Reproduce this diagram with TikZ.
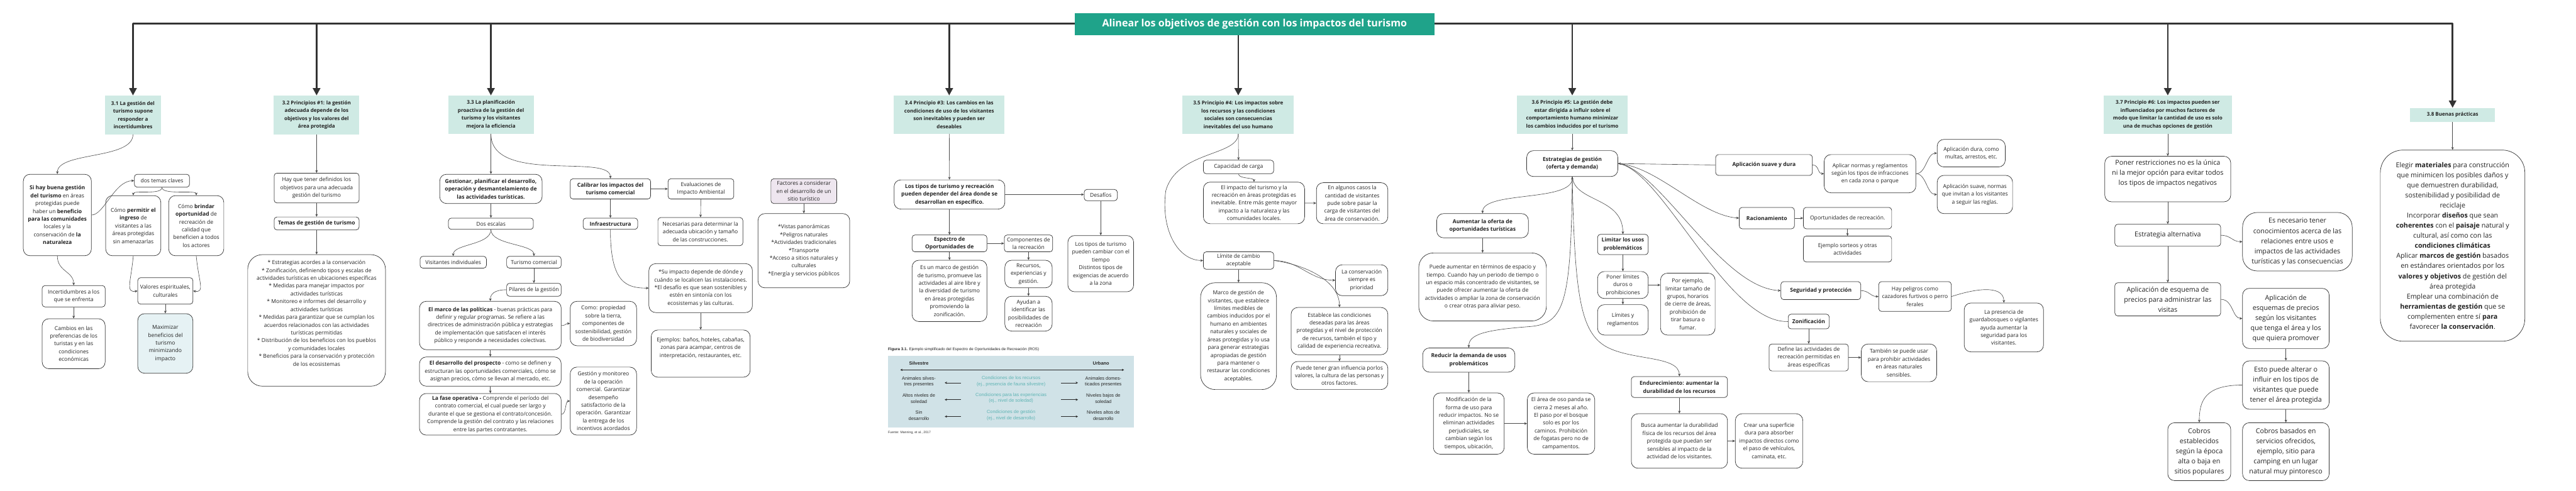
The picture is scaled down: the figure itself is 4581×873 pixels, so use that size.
\documentclass[tikz,border=0pt]{standalone}
\usepackage{fontspec}
\setmainfont{Open Sans}
\newfontfamily\figfamily{Liberation Sans}
\usetikzlibrary{arrows.meta}
\definecolor{hdrteal}{HTML}{CFEAE4}
\definecolor{titleteal}{HTML}{1FA38A}
\definecolor{boxc}{HTML}{333333}
\definecolor{linec}{HTML}{4A4A4A}
\definecolor{barc}{HTML}{333333}
\definecolor{maxfill}{HTML}{E6F2F4}
\definecolor{lavfill}{HTML}{EEE6EF}
\definecolor{figbg}{HTML}{D0E2E7}
\definecolor{figteal}{HTML}{5FB4B4}
\definecolor{txt}{HTML}{222222}
\newcommand{\bodyf}{\fontsize{9.6}{13.9}\selectfont}
\newcommand{\hdrf}{\fontsize{9}{14}\selectfont\bfseries}
\newcommand{\bigfnt}{\fontsize{12}{18}\selectfont}
\newcommand{\figf}{\figfamily\fontsize{8.3}{11}\selectfont}
\tikzset{
  hdr/.style={fill=hdrteal, font=\hdrf, align=center, inner sep=1pt, text=txt},
  bx/.style={draw=boxc, line width=0.8pt, rounded corners=5pt, fill=white, align=center, inner sep=1pt, font=\bodyf, text=txt},
  rbx/.style={bx, rounded corners=12pt},
  Rbx/.style={bx, rounded corners=26pt},
  bigbx/.style={font=\bigfnt},
  conn/.style={draw=linec, line width=0.7pt, -{Stealth[length=5pt,width=4.5pt]}},
  plainc/.style={draw=linec, line width=0.7pt},
  bar/.style={draw=barc, line width=3pt, line cap=round},
  big/.style={draw=barc, line width=3pt, -{Triangle[length=13pt,width=13pt]}},
  figtxt/.style={font=\figf, align=center, inner sep=0pt, text=black!85},
  figarr/.style={draw=black!85, line width=0.8pt, -{Stealth[length=4pt,width=4pt]}},
}
\begin{document}
\begin{tikzpicture}[x=1pt,y=-1pt]
\useasboundingbox (0,0) rectangle (4581,873);
\fill[white] (0,0) rectangle (4581,873);

% ---------- headers ----------
\node[hdr, minimum width=99, minimum height=69] (h31) at (236.5,204.5) {3.1 La gestión del\\turismo supone\\responder a\\incertidumbres};
\node[hdr, minimum width=152, minimum height=69] (h32) at (563,204.5) {3.2 Principios \#1: la gestión\\adecuada depende de los\\objetivos y los valores del\\área protegida};
\node[hdr, minimum width=152, minimum height=68] (h33) at (873,204) {3.3 La planificación\\proactiva de la gestión del\\turismo y los visitantes\\mejora la eficiencia};
\node[hdr, minimum width=197, minimum height=68] (h34) at (1688,204) {3.4 Principio \#3: Los cambios en las\\condiciones de uso de los visitantes\\son inevitables y pueden ser\\deseables};
\node[hdr, minimum width=198, minimum height=68] (h35) at (2202,204) {3.5 Principio \#4: Los impactos sobre\\los recursos y las condiciones\\sociales son consecuencias\\inevitables del uso humano};
\node[hdr, minimum width=197, minimum height=68] (h36) at (2796,204) {3.6 Principio \#5: La gestión debe\\estar dirigida a influir sobre el\\comportamiento humano minimizar\\los cambios inducidos por el turismo};
\node[hdr, minimum width=228, minimum height=68] (h37) at (3855,204) {3.7 Principio \#6: Los impactos pueden ser\\influenciados por muchos factores de\\modo que limitar la cantidad de uso es solo\\una de muchas opciones de gestión};
\node[hdr, minimum width=151, minimum height=25] (h38) at (4361.5,204.5) {3.8 Buenas prácticas};

% ---------- top bar ----------
\coordinate (barY) at (0,42);
\draw[bar] (h31.north |- barY) -- (h38.north |- barY);
\foreach \h in {h31,h32,h33,h34,h35,h36,h37,h38}
  \draw[big] (\h.north |- barY) -- (\h.north);
\node[fill=titleteal, text=white, font=\fontsize{18}{22}\selectfont\bfseries, minimum width=640, minimum height=40, inner sep=2pt] (title) at (2231,43) {Alinear los objetivos de gestión con los impactos del turismo};

% ---------- 3.1 ----------
\node[rbx, minimum width=121, minimum height=145] (sihay) at (102,382.5) {\textbf{Si hay buena gestión}\\\textbf{del turismo} en áreas\\protegidas puede\\haber un \textbf{beneficio}\\\textbf{para las comunidades}\\locales y la\\conservación de \textbf{la}\\\textbf{naturaleza}};
\node[bx, minimum width=98, minimum height=23] (dos) at (288,321.5) {dos temas claves};
\node[rbx, minimum width=98, minimum height=107] (permitir) at (237,401.5) {Cómo \textbf{permitir el}\\\textbf{ingreso} de\\visitantes a las\\áreas protegidas\\sin amenazarlas};
\node[rbx, minimum width=98, minimum height=107] (brindar) at (349,401.5) {Cómo \textbf{brindar}\\\textbf{oportunidad} de\\recreación de\\calidad que\\beneficien a todos\\los actores};
\node[bx, minimum width=112, minimum height=38] (incert) at (131,527) {Incertidumbres a los\\que se enfrenta};
\node[rbx, minimum width=112, minimum height=89] (cambios) at (131,611.5) {Cambios en las\\preferencias de los\\turistas y en las\\condiciones\\económicas};
\node[bx, minimum width=98, minimum height=47] (valores) at (294,517.5) {Valores espirituales,\\culturales};
\node[rbx, fill=maxfill, minimum width=98, minimum height=106] (maxim) at (294,611) {Maximizar\\beneficios del\\turismo\\minimizando\\impacto};

% ---------- 3.2 ----------
\node[bx, minimum width=151, minimum height=53] (hay) at (563,334.5) {Hay que tener definidos los\\objetivos para una adecuada\\gestión del turismo};
\node[bx, minimum width=151, minimum height=23] (temas) at (563,397.5) {\textbf{Temas de gestión de turismo}};
\node[Rbx, minimum width=245, minimum height=234] (lista) at (563,570) {* Estrategias acordes a la conservación\\* Zonificación, definiendo tipos y escalas de\\actividades turísticas en ubicaciones específicas\\* Medidas para manejar impactos por\\actividades turísticas\\* Monitoreo e informes del desarrollo y\\actividades turísticas\\* Medidas para garantizar que se cumplan los\\acuerdos relacionados con las actividades\\turísticas permitidas\\* Distribución de los beneficios con los pueblos\\y comunidades locales\\* Beneficios para la conservación y protección\\de los ecosistemas\\[12pt]};

% ---------- 3.3 ----------
\node[rbx, minimum width=182, minimum height=52] (gest) at (873,336) {\textbf{Gestionar, planificar el desarrollo,}\\\textbf{operación y desmantelamiento de}\\\textbf{las actividades turísticas.}};
\node[bx, minimum width=151, minimum height=20] (dosesc) at (873,398) {Dos escalas};
\node[bx, minimum width=118, minimum height=21] (visit) at (806,466.5) {Visitantes individuales};
\node[bx, minimum width=97, minimum height=21] (turcom) at (949.5,466.5) {Turismo comercial};
\node[bx, minimum width=97, minimum height=23] (pilares) at (949.5,515.5) {Pilares de la gestión};
\node[rbx, minimum width=252, minimum height=86] (marco) at (872,579) {\textbf{El marco de las políticas} - buenas prácticas para\\definir y regular programas. Se refiere a las\\directrices de administración pública y estrategias\\de implementación que satisfacen el interés\\público y responde a necesidades colectivas.};
\node[rbx, minimum width=252, minimum height=52] (desarr) at (872,661) {\textbf{El desarrollo del prospecto} - como se definen y\\estructuran las oportunidades comerciales, cómo se\\asignan precios, cómo se llevan al mercado, etc.};
\node[rbx, minimum width=252, minimum height=74] (fase) at (872,737) {\textbf{La fase operativa -} Comprende el período del\\contrato comercial, el cual puede ser largo y\\durante el que se gestiona el contrato/concesión.\\Comprende la gestión del contrato y las relaciones\\entre las partes contratantes.};
\node[rbx, minimum width=118, minimum height=79] (como) at (1073,575.5) {Como: propiedad\\sobre la tierra,\\componentes de\\sostenibilidad, gestión\\de biodiversidad};
\node[rbx, minimum width=118, minimum height=121] (gestmon) at (1073,713.5) {Gestión y monitoreo\\de la operación\\comercial. Garantizar\\desempeño\\satisfactorio de la\\operación. Garantizar\\la entrega de los\\incentivos acordados};
\node[bx, minimum width=143, minimum height=36] (calib) at (1085.5,336) {\textbf{Calibrar los impactos del}\\\textbf{turismo comercial}};
\node[bx, minimum width=117, minimum height=36] (evalua) at (1246.5,336) {Evaluaciones de\\Impacto Ambiental};
\node[bx, minimum width=151, minimum height=50] (necesar) at (1245.5,412) {Necesarias para determinar la\\adecuada ubicación y tamaño\\de las construcciones.};
\node[bx, minimum width=97, minimum height=20] (infra) at (1085.5,398) {\textbf{Infraestructura}};
\node[bx, fill=lavfill, minimum width=117, minimum height=44] (factores) at (1429.5,340) {Factores a considerar\\en el desarrollo de un\\sitio turístico};
\node[rbx, minimum width=163, minimum height=132] (factlist) at (1429.5,446) {*Vistas panorámicas\\*Peligros naturales\\*Actividades tradicionales\\*Transporte\\*Acceso a sitios naturales y\\culturales\\*Energía y servicios públicos};
\node[rbx, minimum width=184, minimum height=87] (suimp) at (1246,512.5) {*Su impacto depende de dónde y\\cuándo se localicen las instalaciones.\\*El desafío es que sean sostenibles y\\estén en sintonía con los\\ecosistemas y las culturas.};
\node[rbx, minimum width=176, minimum height=84] (ejemplos) at (1246,629) {Ejemplos: baños, hoteles, cabañas,\\zonas para acampar, centros de\\interpretación, restaurantes, etc.\\[8pt]};

% ---------- 3.4 ----------
\node[rbx, minimum width=197, minimum height=52] (lostipos) at (1688.5,346) {\textbf{Los tipos de turismo y recreación}\\\textbf{pueden depender del área donde se}\\\textbf{desarrollan en específico.}};
\node[bx, minimum width=59, minimum height=20] (desafios) at (1957.5,347) {Desafíos};
\node[rbx, minimum width=117, minimum height=100] (tipcamb) at (1957.5,469) {Los tipos de turismo\\pueden cambiar con el\\tiempo\\Distintos tipos de\\exigencias de acuerdo\\a la zona};
\node[bx, minimum width=133, minimum height=30] (espectro) at (1688.5,433) {\textbf{Espectro de}\\\textbf{Oportunidades de}};
\node[bx, minimum width=86, minimum height=30] (compon) at (1829,433) {Componentes de\\la recreación};
\node[rbx, minimum width=133, minimum height=109] (esunmarco) at (1688.5,517.5) {Es un marco de gestión\\de turismo, promueve las\\actividades al aire libre y\\la diversidad de turismo\\en áreas protegidas\\promoviendo la\\zonificación.};
\node[rbx, minimum width=84, minimum height=49] (recursos) at (1829,487.5) {Recursos,\\experiencias y\\gestión.};
\node[rbx, minimum width=84, minimum height=62] (ayudan) at (1829,558) {Ayudan a\\identificar las\\posibilidades de\\recreación};

% ---------- figure 3.1 ----------
\node[anchor=west, font=\figfamily\fontsize{7}{8}\selectfont, inner sep=0pt, text=black!85] (figcap) at (1579,622) {\textbf{Figura 3.1.} Ejemplo simplificado del Espectro de Oportunidades de Recreación (ROS)};
\node[fill=figbg, minimum width=437, minimum height=128, inner sep=0pt] (figpanel) at (1797.5,697) {};
\node[figtxt, font=\figf\bfseries] (silv) at (1634,646) {Silvestre};
\node[figtxt, font=\figf\bfseries] (urb) at (1958,646) {Urbano};
\coordinate (dblL) at (1601,658);
\coordinate (dblR) at (1999,658);
\draw[draw=black!85, line width=0.8pt, {Stealth[length=4pt,width=4pt]}-{Stealth[length=4pt,width=4pt]}] (dblL) -- (dblR);
\node[figtxt] (l1) at (1634,679) {Animales silves-\\tres presentes};
\node[figtxt] (l2) at (1634,709) {Altos niveles de\\soledad};
\node[figtxt] (l3) at (1634,739) {Sin\\desarrollo};
\node[figtxt, text=figteal] (c1) at (1798,678) {Condiciones de los recursos\\(ej., presencia de fauna silvestre)};
\node[figtxt, text=figteal] (c2) at (1798,708) {Condiciones para las experiencias\\(ej., nivel de soledad)};
\node[figtxt, text=figteal] (c3) at (1798,739) {Condiciones de gestión\\(ej., nivel de desarrollo)};
\node[figtxt] (r1) at (1962,679) {Animales domes-\\ticados presentes};
\node[figtxt] (r2) at (1962,709) {Niveles bajos de\\soledad};
\node[figtxt] (r3) at (1962,739) {Niveles altos de\\desarrollo};
\foreach \y in {681,711,741}{
  \draw[figarr] (1709,\y) -- (1680,\y);
  \draw[figarr] (1887,\y) -- (1917,\y);
}
\node[anchor=west, font=\figfamily\fontsize{5.8}{7}\selectfont, inner sep=0pt, text=black!80] (fuente) at (1579,770) {Fuente: Manning, et al., 2017};

% ---------- 3.5 ----------
\node[bx, minimum width=125, minimum height=24] (capac) at (2202.5,297) {Capacidad de carga};
\node[rbx, minimum width=180, minimum height=74] (impacto) at (2230,361) {El impacto del turismo y la\\recreación en áreas protegidas es\\inevitable. Entre más gente mayor\\impacto a la naturaleza y las\\comunidades locales.};
\node[rbx, minimum width=127, minimum height=73] (algunos) at (2404.5,361.5) {En algunos casos la\\cantidad de visitantes\\pude sobre pasar la\\carga de visitantes del\\área de conservación.};
\node[bx, minimum width=125, minimum height=31] (limite) at (2202.5,463.5) {Límite de cambio\\aceptable};
\node[Rbx, minimum width=135, minimum height=190] (marcogv) at (2202.5,598) {Marco de gestión de\\visitantes, que establece\\límites medibles de\\cambios inducidos por el\\humano en ambientes\\naturales y sociales de\\áreas protegidas y lo usa\\para generar estrategias\\apropiadas de gestión\\para mantener o\\restaurar las condiciones\\aceptables.};
\node[rbx, minimum width=93, minimum height=55] (conserv) at (2421.5,498.5) {La conservación\\siempre es\\prioridad};
\node[rbx, minimum width=172, minimum height=84] (establ) at (2382,589) {Establece las condiciones\\deseadas para las áreas\\protegidas y el nivel de protección\\de recursos, también el tipo y\\calidad de experiencia recreativa.};
\node[rbx, minimum width=172, minimum height=50] (puedet) at (2382,668) {Puede tener gran influencia porlos\\valores, la cultura de las personas y\\otros factores.};

% ---------- 3.6 ----------
\node[rbx, minimum width=162, minimum height=46] (estrat) at (2796,291) {\textbf{Estrategias de gestión}\\\textbf{(oferta y demanda)}};
\node[rbx, minimum width=163, minimum height=43] (aument) at (2636.5,401.5) {\textbf{Aumentar la oferta de}\\\textbf{oportunidades turísticas}};
\node[Rbx, minimum width=227, minimum height=121] (puedeaum) at (2636.5,510.5) {Puede aumentar en términos de espacio y\\tiempo. Cuando hay un periodo de tiempo o\\un espacio más concentrado de visitantes, se\\puede ofrecer aumentar la oferta de\\actividades o ampliar la zona de conservación\\o crear otras para aliviar peso.};
\node[bx, minimum width=90, minimum height=36] (limitar) at (2886,435) {\textbf{Limitar los usos}\\\textbf{problemáticos}};
\node[rbx, minimum width=90, minimum height=48] (poner) at (2886,507) {Poner límites\\duros o\\prohibiciones};
\node[rbx, minimum width=90, minimum height=54] (limreg) at (2886,569) {Límites y\\reglamentos};
\node[rbx, minimum width=97, minimum height=110] (porej) at (3001.5,541) {Por ejemplo,\\limitar tamaño de\\grupos, horarios\\de cierre de áreas,\\prohibición de\\tirar basura o\\fumar.};
\node[rbx, minimum width=164, minimum height=43] (reducir) at (2612,640.5) {\textbf{Reducir la demanda de usos}\\\textbf{problemáticos}};
\node[rbx, minimum width=126, minimum height=109] (modif) at (2612,753.5) {Modificación de la\\forma de uso para\\reducir impactos. No se\\eliminan actividades\\perjudiciales, se\\cambian según los\\tiempos, ubicación,};
\node[rbx, minimum width=120, minimum height=109] (oso) at (2776,753.5) {El área de oso panda se\\cierra 2 meses al año.\\El paso por el bosque\\solo es por los\\caminos. Prohibición\\de fogatas pero no de\\campamentos.};
\node[bx, minimum width=171, minimum height=37] (endur) at (2986.5,688.5) {\textbf{Endurecimiento: aumentar la}\\\textbf{durabilidad de los recursos}};
\node[rbx, minimum width=171, minimum height=97] (busca) at (2986.5,784.5) {Busca aumentar la durabilidad\\física de los recursos del área\\protegida que puedan ser\\sensibles al impacto de la\\actividad de los visitantes.};
\node[rbx, minimum width=120, minimum height=97] (crear) at (3146,784.5) {Crear una superficie\\dura para absorber\\impactos directos como\\el paso de vehículos,\\caminata, etc.};
\node[bx, minimum width=172, minimum height=37] (aplsd) at (3137,293.5) {\textbf{Aplicación suave y dura}};
\node[rbx, minimum width=163, minimum height=68] (aplicar) at (3325.5,309) {Aplicar normas y reglamentos\\según los tipos de infracciones\\en cada zona o parque};
\node[rbx, minimum width=121, minimum height=49] (apldura) at (3505.5,272.5) {Aplicación dura, como\\multas, arrestos, etc.};
\node[rbx, minimum width=134, minimum height=68] (aplsuav) at (3512,346) {Aplicación suave, normas\\que invitan a los visitantes\\a seguir las reglas.};
\node[bx, minimum width=98, minimum height=38] (racion) at (3142,388) {\textbf{Racionamiento}};
\node[bx, minimum width=157, minimum height=38] (oportu) at (3285.5,388) {Oportunidades de recreación.};
\node[bx, minimum width=157, minimum height=46] (ejsort) at (3285.5,443) {Ejemplo sorteos y otras\\actividades};
\node[bx, minimum width=142, minimum height=32] (segur) at (3238,517) {\textbf{Seguridad y protección}};
\node[bx, minimum width=129, minimum height=53] (peligr) at (3405.5,527.5) {Hay peligros como\\cazadores furtivos o perro\\ferales};
\node[rbx, minimum width=141, minimum height=87] (presen) at (3563.5,582.5) {La presencia de\\guardabosques o vigilantes\\ayuda aumentar la\\seguridad para los\\visitantes.};
\node[bx, minimum width=73, minimum height=26] (zonif) at (3216.5,572) {\textbf{Zonificación}};
\node[bx, minimum width=141, minimum height=48] (define) at (3216.5,636) {Define las actividades de\\recreación permitidas en\\áreas específicas};
\node[rbx, minimum width=134, minimum height=67] (tambien) at (3377,645.5) {También se puede usar\\para prohibir actividades\\en áreas naturales\\sensibles.};

% ---------- 3.7 ----------
\node[rbx, bigbx, minimum width=224, minimum height=81] (poneres) at (3855,318.5) {Poner restricciones no es la única\\ni la mejor opción para evitar todos\\los tipos de impactos negativos\\[6pt]};
\node[bx, bigbx, minimum width=188, minimum height=39] (estalt) at (3855,418.5) {Estrategia alternativa};
\node[Rbx, bigbx, minimum width=195, minimum height=104] (esnec) at (4085.5,430) {Es necesario tener\\conocimientos acerca de las\\relaciones entre usos e\\impactos de las actividades\\turísticas y las consecuencias};
\node[bx, bigbx, minimum width=188, minimum height=59] (aplesq) at (3855,532.5) {Aplicación de esquema de\\precios para administrar las\\visitas};
\node[rbx, bigbx, minimum width=154, minimum height=107] (aplesq2) at (4065,566.5) {Aplicación de\\esquemas de precios\\según los visitantes\\que tenga el área y los\\que quiera promover};
\node[rbx, bigbx, minimum width=154, minimum height=86] (esto) at (4065,685) {Esto puede alterar o\\influir en los tipos de\\visitantes que puede\\tener el área protegida};
\node[rbx, bigbx, minimum width=112, minimum height=103] (cobrose) at (3911,803.5) {Cobros\\establecidos\\según la época\\alta o baja en\\sitios populares};
\node[rbx, bigbx, minimum width=154, minimum height=103] (cobrosb) at (4065,803.5) {Cobros basados en\\servicios ofrecidos,\\ejemplo, sitio para\\camping en un lugar\\natural muy pintoresco};

% ---------- 3.8 ----------
\node[Rbx, bigbx, rounded corners=40pt, minimum width=257, minimum height=340] (buenas) at (4361.5,437) {Elegir \textbf{materiales} para construcción\\que minimicen los posibles daños y\\que demuestren durabilidad,\\sostenibilidad y posibilidad de\\reciclaje\\Incorporar \textbf{diseños} que sean\\\textbf{coherentes} con el \textbf{paisaje} natural y\\cultural, así como con las\\\textbf{condiciones climáticas}\\Aplicar \textbf{marcos de gestión} basados\\en estándares orientados por los\\\textbf{valores y objetivos} de gestión del\\área protegida\\Emplear una combinación de\\\textbf{herramientas de gestión} que se\\complementen entre sí \textbf{para}\\favorecer \textbf{la conservación}.};

% ================= connectors =================
% 3.1
\draw[conn] (h31.south) .. controls +(0,45) and +(0,-40) .. (sihay.north);
\draw[conn] (sihay.east) .. controls +(22,0) and +(-35,0) .. (dos.west);
\draw[conn] (dos.south) .. controls +(0,14) and +(0,-10) .. (permitir.north);
\draw[conn] (dos.south) .. controls +(0,14) and +(0,-10) .. (brindar.north);
\draw[conn] (sihay.south) .. controls +(0,28) and +(0,-25) .. (incert.north);
\draw[conn] (incert) -- (cambios);
\draw[conn] (permitir.south) .. controls +(-4,45) and +(-22,4) .. (valores.west);
\draw[conn] (brindar.south) .. controls +(4,45) and +(22,4) .. (valores.east);
\draw[conn] (valores) -- (maxim);
% 3.2
\draw[conn] (h32) -- (hay);
\draw[conn] (hay) -- (temas);
\draw[conn] (temas) -- (lista);
% 3.3
\draw[conn] (h33) -- (gest);
\draw[conn] (h33.south) .. controls +(0,90) and +(0,-45) .. (calib.north);
\draw[conn] (gest) -- (dosesc);
\draw[conn] (dosesc.south) .. controls +(0,28) and +(0,-22) .. (visit.north);
\draw[conn] (dosesc.south) .. controls +(0,28) and +(0,-22) .. (turcom.north);
\draw[conn] (turcom) -- (pilares);
\draw[conn] (pilares.west) .. controls +(-22,0) and +(0,-12) .. (marco.north);
\draw[conn] (marco) -- (desarr);
\draw[conn] (desarr) -- (fase);
\draw[conn] (marco.east) .. controls +(9,0) and +(-9,0) .. (como.west);
\draw[conn] (fase.east) .. controls +(9,0) and +(-9,0) .. (gestmon.west);
\draw[conn] (calib) -- (evalua);
\draw[conn] (calib) -- (infra);
\draw[conn] (evalua) -- (necesar);
\draw[conn] (infra.south) .. controls +(0,95) and +(-40,0) .. (suimp.west);
\draw[conn] (suimp) -- (ejemplos);
\draw[conn] (factores) -- (factlist);
% 3.4
\draw[conn] (h34) -- (lostipos);
\draw[conn] (lostipos.east) -- (lostipos.east -| desafios.west);
\draw[conn] (desafios) -- (tipcamb);
\draw[conn] (lostipos) -- (espectro);
\draw[conn] (espectro) -- (compon);
\draw[conn] (espectro) -- (esunmarco);
\draw[conn] (compon) -- (recursos);
\draw[conn] (recursos) -- (ayudan);
% 3.5
\draw[conn] (h35) -- (capac);
\draw[conn] (h35.south) .. controls +(0,40) and (2092,268) .. (2073,340) .. controls (2064,410) and (2095,463) .. (limite.west);
\draw[conn] (capac.south) .. controls +(0,9) and +(0,-8) .. (impacto.north);
\draw[conn] (impacto) -- (algunos);
\draw[conn] (limite) -- (marcogv);
\draw[conn] (limite.east) .. controls +(45,0) and +(-45,0) .. (conserv.west);
\draw[conn] (limite.east) .. controls +(60,8) and +(0,-45) .. (establ.north);
\draw[conn] (establ) -- (puedet);
% 3.6
\draw[conn] (h36) -- (estrat);
\draw[draw=linec, line width=0.7pt, {Stealth[length=5pt,width=4.5pt]}-{Stealth[length=5pt,width=4.5pt]}] (estrat.south) .. controls +(0,45) and +(0,-40) .. (aument.north);
\draw[conn] (aument) -- (puedeaum);
\draw[conn] (estrat.south) .. controls (2794,540) and (2782,576) .. (2720,581) .. controls (2640,587) and (2612,595) .. (reducir.north);
\draw[conn] (estrat.south) .. controls (2800,530) and (2812,590) .. (2855,616) .. controls (2900,642) and (2986,632) .. (endur.north);
\draw[conn] (estrat.south) .. controls (2800,360) and (2886,350) .. (limitar.north);
\draw[conn] (aplsd.west) -- (estrat.east);
\draw[conn] (estrat.east) .. controls +(70,5) and +(-70,-5) .. (racion.west);
\draw[conn] (estrat.east) .. controls (2950,298) and (3060,512) .. (segur.west);
\draw[plainc] (estrat.east) .. controls (2955,300) and (3070,575) .. (zonif.west);
\draw[conn] (limitar) -- (poner);
\draw[conn] (poner) -- (limreg);
\draw[conn] (poner.east) -- (poner.east -| porej.west);
\draw[conn] (reducir) -- (modif);
\draw[conn] (modif) -- (oso);
\draw[conn] (endur) -- (busca);
\draw[conn] (busca) -- (crear);
\draw[conn] (aplsd.east) .. controls +(12,0) and +(-12,0) .. (aplicar.west);
\draw[conn] (aplicar.east) .. controls +(18,0) and +(-18,0) .. (apldura.west);
\draw[conn] (aplicar.east) .. controls +(18,0) and +(-18,0) .. (aplsuav.west);
\draw[conn] (racion) -- (oportu);
\draw[conn] (oportu) -- (ejsort);
\draw[conn] (segur.east) .. controls +(14,0) and +(-14,0) .. (peligr.west);
\draw[conn] (peligr.east) .. controls +(55,-18) and +(0,-28) .. (presen.north);
\draw[conn] (zonif) -- (define);
\draw[conn] (define.east) -- (define.east -| tambien.west);
% 3.7
\draw[conn] (h37) -- (poneres);
\draw[conn] (poneres) -- (estalt);
\draw[conn] (estalt) -- (aplesq);
\draw[conn] (estalt.east) .. controls +(18,0) and +(-18,0) .. (esnec.west);
\draw[conn] (aplesq.east) .. controls +(22,0) and +(-18,0) .. (aplesq2.west);
\draw[conn] (aplesq2) -- (esto);
\draw[conn] (esto) -- (cobrosb);
\draw[conn] (esto.west) .. controls +(-65,0) and +(0,-40) .. (cobrose.north);
% 3.8
\draw[conn] (h38) -- (buenas);
\end{tikzpicture}
\end{document}
